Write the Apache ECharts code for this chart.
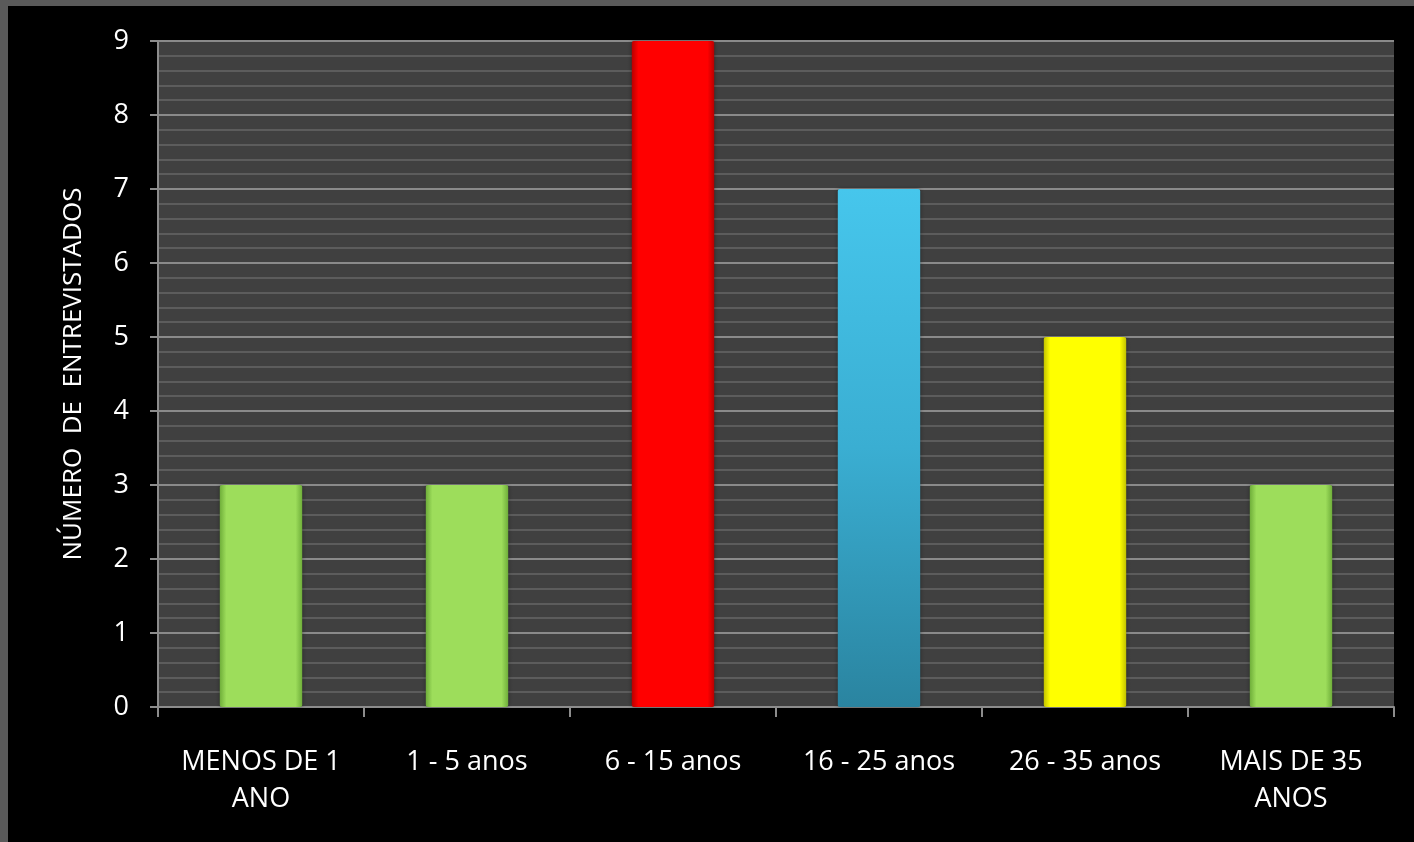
<!DOCTYPE html>
<html>
<head>
<meta charset="utf-8">
<script src="https://cdn.jsdelivr.net/npm/echarts@6/dist/echarts.min.js"></script>
<style>
html,body{margin:0;padding:0;background:#000;}
#c{width:1414px;height:842px;}
</style>
</head>
<body>
<div id="c"></div>
<script>
const categories = ["MENOS DE 1\nANO", "1 - 5 anos", "6 - 15 anos", "16 - 25 anos", "26 - 35 anos", "MAIS DE 35\nANOS"];
const values = [3, 3, 9, 7, 5, 3];
const barColors = ["green", "green", "red", "blue", "yellow", "green"];
const yTicks = [0, 1, 2, 3, 4, 5, 6, 7, 8, 9];
const yName = "NÚMERO  DE  ENTREVISTADOS";

function hGrad(edge, base) {
  return new echarts.graphic.LinearGradient(0, 0, 1, 0, [
    {offset: 0, color: edge},
    {offset: 0.08, color: base},
    {offset: 0.92, color: base},
    {offset: 1, color: edge}
  ]);
}
const palette = {
  green: hGrad('#6fae3a', '#9ddd5b'),
  red: hGrad('#b80000', '#ff0000'),
  yellow: hGrad('#c2c200', '#ffff00'),
  blue: new echarts.graphic.LinearGradient(0, 0, 0, 1, [
    {offset: 0, color: '#46c6ec'},
    {offset: 0.5, color: '#3aaed2'},
    {offset: 1, color: '#2a84a0'}
  ])
};

const chart = echarts.init(document.getElementById('c'), null, {renderer: 'canvas'});
const font = '"Open Sans", "Liberation Sans", sans-serif';
chart.setOption({
  backgroundColor: '#000000',
  animation: false,
  graphic: [
    {type: 'rect', left: 0, top: 0, shape: {width: 1414, height: 6}, style: {fill: '#5a5a5a'}, z: 100},
    {type: 'rect', left: 0, top: 0, shape: {width: 8, height: 842}, style: {fill: '#5a5a5a'}, z: 100}
  ],
  grid: {
    left: 158, top: 41, right: 20, bottom: 135,
    show: true, backgroundColor: '#404040', borderWidth: 0
  },
  xAxis: {
    type: 'category',
    data: categories,
    axisLine: {show: true, lineStyle: {color: '#8c8c8c', width: 2}},
    axisTick: {show: true, length: 10, lineStyle: {color: '#8c8c8c', width: 2}},
    axisLabel: {color: '#ffffff', fontFamily: font, fontSize: 27, lineHeight: 37, margin: 37, interval: 0},
    splitLine: {show: false}
  },
  yAxis: {
    type: 'value',
    min: yTicks[0], max: yTicks[yTicks.length - 1], interval: 1,
    name: yName,
    nameLocation: 'middle',
    nameGap: 71,
    nameTextStyle: {color: '#ffffff', fontFamily: font, fontSize: 26},
    axisLine: {show: true, lineStyle: {color: '#8c8c8c', width: 2}},
    axisTick: {show: true, length: 8, lineStyle: {color: '#8c8c8c', width: 2}},
    axisLabel: {color: '#ffffff', fontFamily: font, fontSize: 27, margin: 29},
    splitLine: {show: true, lineStyle: {color: '#8a8a8a', width: 2}},
    minorTick: {show: false, splitNumber: 5},
    minorSplitLine: {show: true, lineStyle: {color: '#5c5c5c', width: 2}}
  },
  series: [{
    type: 'bar',
    barCategoryGap: '60%',
    data: values.map((v, i) => ({value: v, itemStyle: {color: palette[barColors[i]]}})),
    itemStyle: {borderRadius: 2, shadowColor: 'rgba(0,0,0,0.4)', shadowBlur: 4}
  }]
});
</script>
</body>
</html>
